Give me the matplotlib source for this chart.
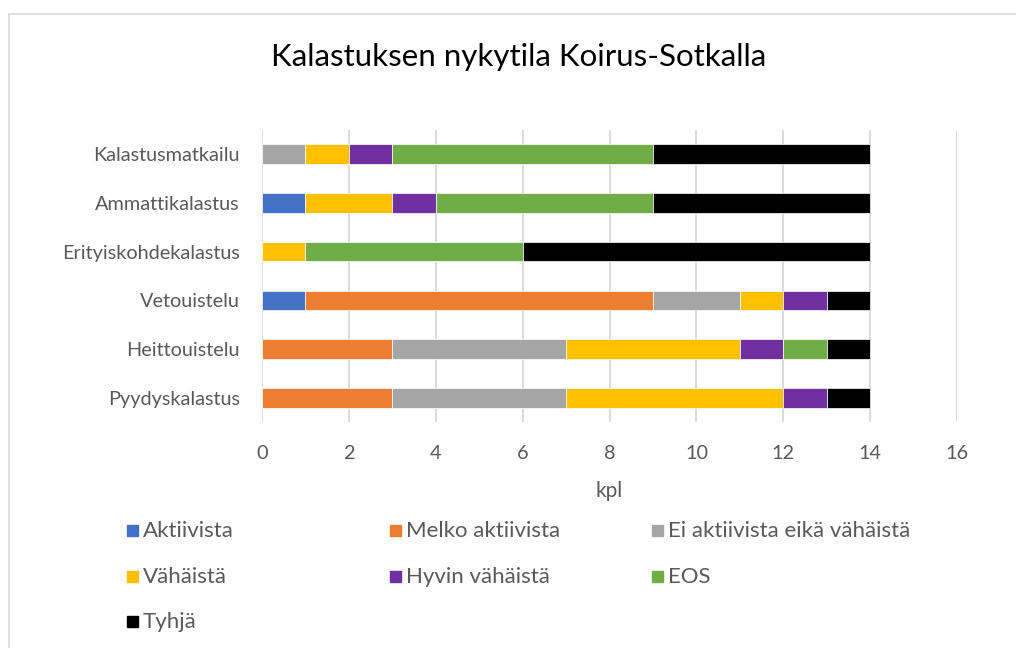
import numpy as np
import matplotlib.pyplot as plt
from matplotlib.patches import Rectangle
from matplotlib.lines import Line2D

plt.rcParams['font.family'] = ['Lato', 'DejaVu Sans']

categories = ['Pyydyskalastus', 'Heittouistelu', 'Vetouistelu',
              'Erityiskohdekalastus', 'Ammattikalastus', 'Kalastusmatkailu']
series = ['Aktiivista', 'Melko aktiivista', 'Ei aktiivista eikä vähäistä',
          'Vähäistä', 'Hyvin vähäistä', 'EOS', 'Tyhjä']
aktiivista = [0, 0, 1, 0, 1, 0]
melko = [3, 3, 8, 0, 0, 0]
ei_aktiivista = [4, 4, 2, 0, 0, 1]
vahaista = [5, 4, 1, 1, 2, 1]
hyvin_vahaista = [1, 1, 1, 0, 1, 1]
eos = [0, 1, 0, 5, 5, 6]
tyhja = [1, 1, 1, 8, 5, 5]
values = [aktiivista, melko, ei_aktiivista, vahaista, hyvin_vahaista, eos, tyhja]
colors = ['#4472C4', '#ED7D31', '#A5A5A5', '#FFC000', '#7030A0', '#70AD47', '#000000']
txt = '#595959'

fig = plt.figure(figsize=(10.16, 6.48), dpi=100)
ax = fig.add_axes([262/1016, 1-422.4/648, 695/1016, 292.8/648])

y = np.arange(len(categories))
left = np.zeros(len(categories))
for vals, col, name in zip(values, colors, series):
    ax.barh(y, vals, left=left, height=0.4, color=col, edgecolor='white',
            linewidth=0.5, label=name, zorder=3)
    left += np.array(vals)

ax.set_xlim(0, 16)
ax.set_ylim(-0.5, 5.5)
ax.set_xticks(range(0, 17, 2))
ax.set_yticks(y)
ax.set_yticklabels(categories)
ax.grid(axis='x', color='#D9D9D9', linewidth=1.3, zorder=0)
for s in ax.spines.values():
    s.set_visible(False)
ax.tick_params(length=0, labelsize=14.3, colors=txt)
ax.tick_params(axis='y', pad=16)
ax.tick_params(axis='x', pad=16)
ax.set_xlabel('kpl', fontsize=15, color=txt, labelpad=14)

fig.text(519/1016, 1-57/648, 'Kalastuksen nykytila Koirus-Sotkalla',
         ha='center', va='center', fontsize=22.5, color='black')

# legend drawn by hand in three columns
col_x = [127, 390, 652]
row_y = [531, 577, 622]
for i, (name, col) in enumerate(zip(series, colors)):
    x0 = col_x[i % 3]
    y0 = row_y[i // 3]
    fig.add_artist(Rectangle((x0/1016, 1-(y0+5)/648), 11/1016, 11/648,
                             transform=fig.transFigure, color=col))
    fig.text((x0+16)/1016, 1-y0/648, name, ha='left', va='center',
             fontsize=16, color=txt)

# chart border
fig.add_artist(Line2D([8.5/1016, 8.5/1016], [0, 1-13.5/648],
                      transform=fig.transFigure, color='#D9D9D9', lw=1.2))
fig.add_artist(Line2D([8.5/1016, 1], [1-13.5/648, 1-13.5/648],
                      transform=fig.transFigure, color='#D9D9D9', lw=1.2))

fig.savefig('out.png', dpi=100)
